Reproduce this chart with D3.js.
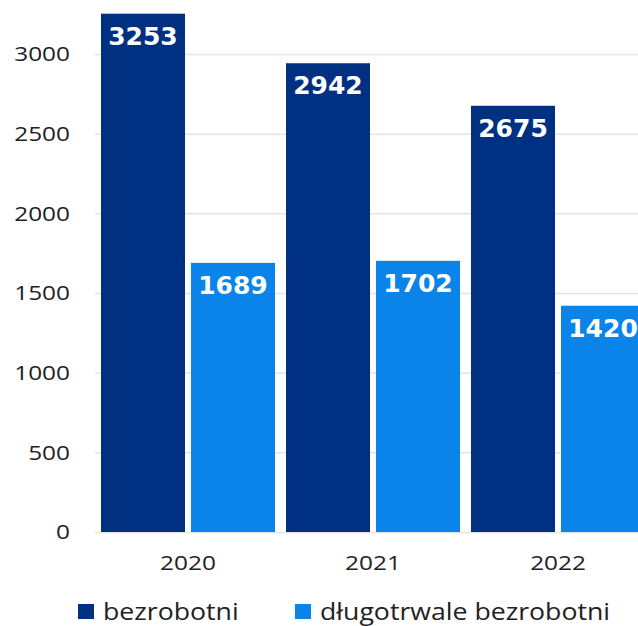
<!DOCTYPE html>
<html>
<head>
<meta charset="utf-8">
<script src="https://cdn.jsdelivr.net/npm/d3@7"></script>
<style>
  body { margin: 0; background: #fff; }
</style>
</head>
<body>
<script>
var years = ["2020", "2021", "2022"];
var seriesNames = ["bezrobotni", "długotrwale bezrobotni"];
var bezrobotni = [3253, 2942, 2675];
var dlugotrwale = [1689, 1702, 1420];
var yTicks = [0, 500, 1000, 1500, 2000, 2500, 3000];
var colors = ["#003082", "#0a84e8"];

var width = 638, height = 626;
var stretch = 1.19; // reference text is a bit wider than Open Sans

var svg = d3.select("body").append("svg")
  .attr("width", width)
  .attr("height", height);

var x = d3.scaleBand()
  .domain(years)
  .range([95.5, 650.5])
  .paddingInner(0.0595)
  .paddingOuter(0.0297);

var xs = d3.scaleBand()
  .domain(seriesNames)
  .range([0, x.bandwidth()])
  .paddingInner(0.0667);

var y = d3.scaleLinear()
  .domain([0, 3000])
  .range([532, 54]);

// grid lines
svg.append("g")
  .selectAll("line")
  .data(yTicks)
  .enter()
  .append("line")
  .attr("x1", 95)
  .attr("x2", width)
  .attr("y1", d => y(d) + 0.5)
  .attr("y2", d => y(d) + 0.5)
  .style("stroke", "#e4e4e4")
  .style("stroke-width", 1.5);

// y labels
svg.append("g")
  .selectAll("text")
  .data(yTicks)
  .enter()
  .append("text")
  .attr("transform", d => "translate(70," + y(d) + ") scale(" + stretch + ",1)")
  .attr("dy", "0.36em")
  .attr("text-anchor", "end")
  .style("font-family", "'Open Sans', sans-serif")
  .style("font-size", "20.5px")
  .style("fill", "#222")
  .text(d => d);

var rows = years.map((yr, i) => ({year: yr, vals: [bezrobotni[i], dlugotrwale[i]]}));

var groups = svg.append("g")
  .selectAll("g")
  .data(rows)
  .enter()
  .append("g")
  .attr("transform", d => "translate(" + x(d.year) + ",0)");

groups.selectAll("rect")
  .data(d => d.vals.map((v, j) => ({name: seriesNames[j], value: v, j: j})))
  .enter()
  .append("rect")
  .attr("x", d => xs(d.name))
  .attr("y", d => y(d.value))
  .attr("width", xs.bandwidth())
  .attr("height", d => y(0) - y(d.value))
  .style("fill", d => colors[d.j]);

groups.selectAll("text.val")
  .data(d => d.vals.map((v, j) => ({name: seriesNames[j], value: v})))
  .enter()
  .append("text")
  .attr("class", "val")
  .attr("x", d => xs(d.name) + xs.bandwidth() / 2)
  .attr("y", d => y(d.value) + 31)
  .attr("text-anchor", "middle")
  .style("font-family", "'DejaVu Sans', sans-serif")
  .style("font-weight", "bold")
  .style("font-size", "25px")
  .style("fill", "#fff")
  .text(d => d.value);

// year labels
svg.append("g")
  .selectAll("text")
  .data(years)
  .enter()
  .append("text")
  .attr("transform", d => "translate(" + (x(d) + x.bandwidth() / 2) + ",563) scale(" + stretch + ",1)")
  .attr("dy", "0.36em")
  .attr("text-anchor", "middle")
  .style("font-family", "'Open Sans', sans-serif")
  .style("font-size", "20.5px")
  .style("fill", "#222")
  .text(d => d);

// legend (slightly higher than the cropped reference so descenders stay visible)
var legendX = [78, 295];
var legend = svg.append("g")
  .selectAll("g")
  .data(seriesNames)
  .enter()
  .append("g")
  .attr("transform", (d, i) => "translate(" + legendX[i] + ",604)");

legend.append("rect")
  .attr("width", 16)
  .attr("height", 15)
  .style("fill", (d, i) => colors[i]);

legend.append("text")
  .attr("transform", "translate(25,7.5) scale(1.16,1)")
  .attr("dy", "0.36em")
  .style("font-family", "'Open Sans', sans-serif")
  .style("font-size", "23px")
  .style("fill", "#222")
  .text(d => d);
</script>
</body>
</html>
